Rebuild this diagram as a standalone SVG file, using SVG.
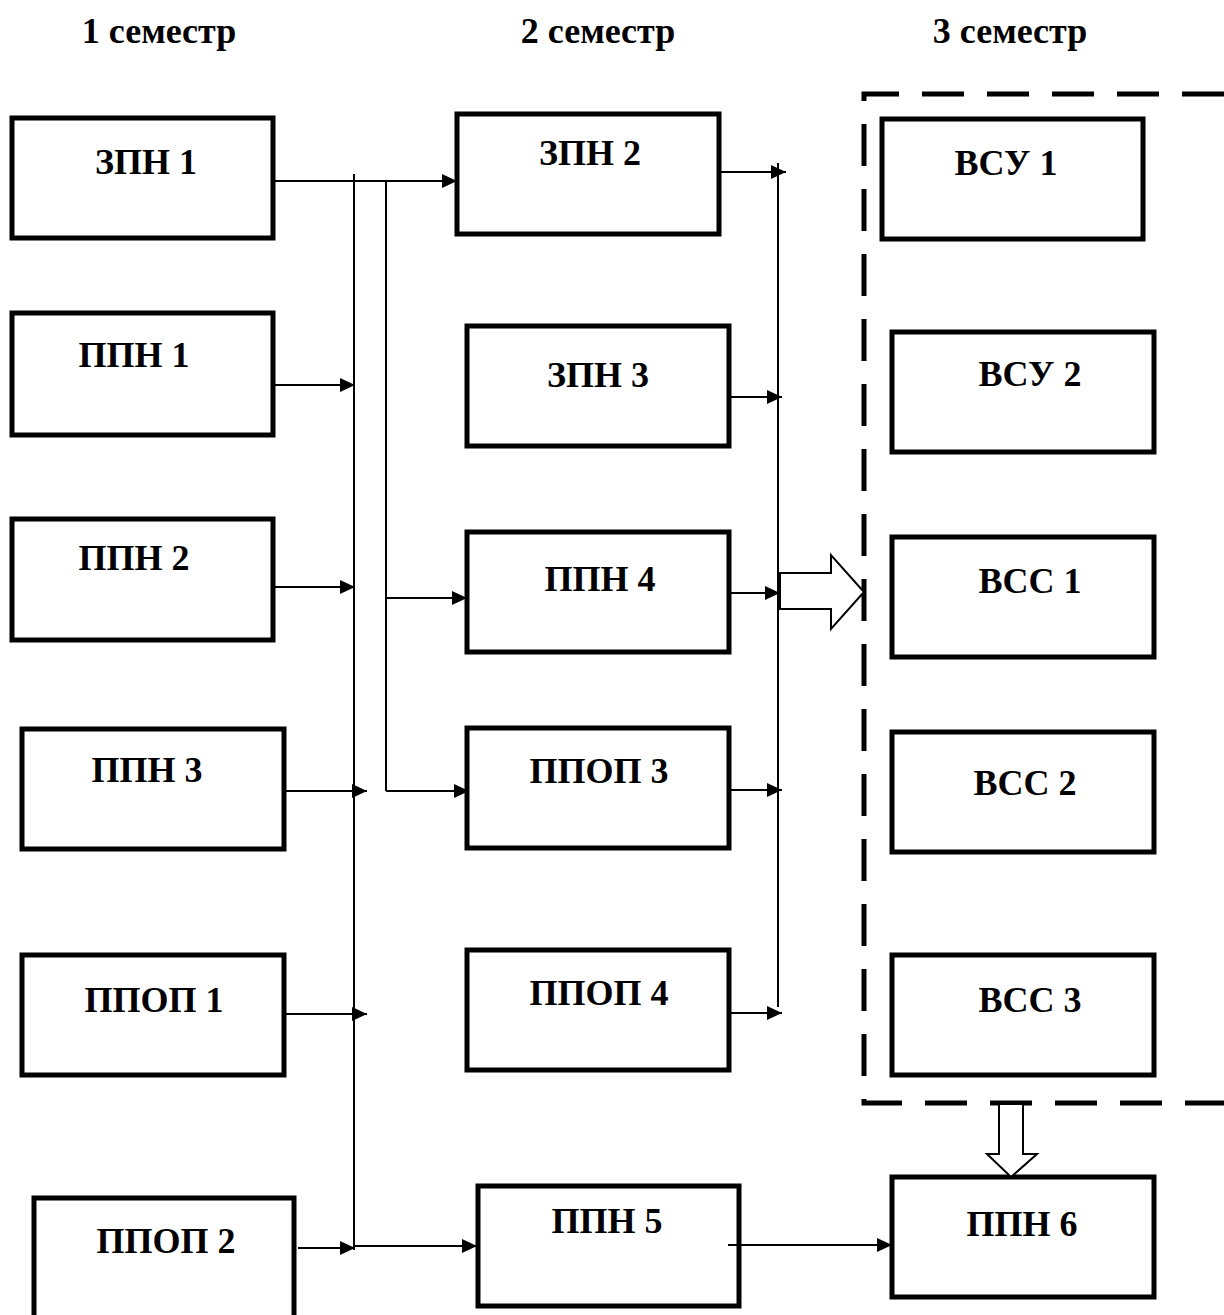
<svg xmlns="http://www.w3.org/2000/svg" width="1224" height="1315" viewBox="0 0 1224 1315">
<defs>
<style>
.box{fill:#fff;stroke:#000;stroke-width:5}
.t{font-family:"Liberation Serif","Times New Roman",serif;font-weight:bold;font-size:36px;text-anchor:middle;fill:#000}
.ln{fill:none;stroke:#000;stroke-width:2}
.hollow{fill:#fff;stroke:#000;stroke-width:2}
</style>
<marker id="ah" markerUnits="userSpaceOnUse" markerWidth="16" markerHeight="14" refX="15" refY="7" orient="auto">
<path d="M0,0 L15,7 L0,14 Z" fill="#000"/>
</marker>
</defs>
<rect width="1224" height="1315" fill="#fff"/>
<g id="headers">
<text class="t" x="159" y="43">1 семестр</text>
<text class="t" x="598" y="43">2 семестр</text>
<text class="t" x="1010" y="43">3 семестр</text>
</g>
<g id="group3" fill="none" stroke="#000" stroke-width="5" stroke-dasharray="42 23">
<path d="M1224,94 L864,94 L864,1103 L1224,1103"/>
</g>
<g id="zpn1"><rect class="box" x="12" y="118" width="261" height="120"/><text class="t" x="146" y="174">ЗПН 1</text></g>
<g id="ppn1"><rect class="box" x="12" y="313" width="261" height="122"/><text class="t" x="134" y="367">ППН 1</text></g>
<g id="ppn2"><rect class="box" x="12" y="519" width="261" height="121"/><text class="t" x="134" y="570">ППН 2</text></g>
<g id="ppn3"><rect class="box" x="22" y="729" width="262" height="120"/><text class="t" x="147" y="782">ППН 3</text></g>
<g id="ppop1"><rect class="box" x="22" y="955" width="262" height="120"/><text class="t" x="154" y="1012">ППОП 1</text></g>
<g id="ppop2"><rect class="box" x="34" y="1198" width="260" height="130"/><text class="t" x="166" y="1253">ППОП 2</text></g>
<g id="zpn2"><rect class="box" x="457" y="114" width="262" height="120"/><text class="t" x="590" y="165">ЗПН 2</text></g>
<g id="zpn3"><rect class="box" x="467" y="326" width="262" height="120"/><text class="t" x="598" y="387">ЗПН 3</text></g>
<g id="ppn4"><rect class="box" x="467" y="532" width="262" height="120"/><text class="t" x="600" y="591">ППН 4</text></g>
<g id="ppop3"><rect class="box" x="467" y="728" width="262" height="120"/><text class="t" x="599" y="783">ППОП 3</text></g>
<g id="ppop4"><rect class="box" x="467" y="950" width="262" height="120"/><text class="t" x="599" y="1005">ППОП 4</text></g>
<g id="ppn5"><rect class="box" x="478" y="1186" width="261" height="120"/><text class="t" x="607" y="1233">ППН 5</text></g>
<g id="vsu1"><rect class="box" x="882" y="119" width="261" height="120"/><text class="t" x="1006" y="175">ВСУ 1</text></g>
<g id="vsu2"><rect class="box" x="892" y="332" width="262" height="120"/><text class="t" x="1030" y="386">ВСУ 2</text></g>
<g id="vss1"><rect class="box" x="892" y="537" width="262" height="120"/><text class="t" x="1030" y="593">ВСС 1</text></g>
<g id="vss2"><rect class="box" x="892" y="732" width="262" height="120"/><text class="t" x="1025" y="795">ВСС 2</text></g>
<g id="vss3"><rect class="box" x="892" y="955" width="262" height="120"/><text class="t" x="1030" y="1012">ВСС 3</text></g>
<g id="ppn6"><rect class="box" x="892" y="1177" width="262" height="120"/><text class="t" x="1022" y="1236">ППН 6</text></g>
<g id="connectors">
<path class="ln" d="M354,174 L354,1250"/>
<path class="ln" d="M386,181 L386,791"/>
<path class="ln" d="M778,163 L778,1007"/>
<path class="ln" d="M273,181 L457,181" marker-end="url(#ah)"/>
<path class="ln" d="M273,385 L355,385" marker-end="url(#ah)"/>
<path class="ln" d="M273,587 L355,587" marker-end="url(#ah)"/>
<path class="ln" d="M284,791 L367,791" marker-end="url(#ah)"/>
<path class="ln" d="M284,1014 L367,1014" marker-end="url(#ah)"/>
<path class="ln" d="M298,1248 L355,1248" marker-end="url(#ah)"/>
<path class="ln" d="M355,1246 L477,1246" marker-end="url(#ah)"/>
<path class="ln" d="M386,598 L467,598" marker-end="url(#ah)"/>
<path class="ln" d="M386,791 L469,791" marker-end="url(#ah)"/>
<path class="ln" d="M719,172 L786,172" marker-end="url(#ah)"/>
<path class="ln" d="M729,397 L782,397" marker-end="url(#ah)"/>
<path class="ln" d="M729,593 L780,593" marker-end="url(#ah)"/>
<path class="ln" d="M729,790 L782,790" marker-end="url(#ah)"/>
<path class="ln" d="M729,1013 L782,1013" marker-end="url(#ah)"/>
<path class="ln" d="M728,1245 L892,1245" marker-end="url(#ah)"/>
<path class="hollow" d="M780,573 L831,573 L831,555 L864,592 L831,629 L831,609 L780,609 Z"/>
<path class="hollow" d="M999,1104 L1023,1104 L1023,1154 L1037,1154 L1011,1177 L987,1154 L999,1154 Z"/>
</g>
</svg>
